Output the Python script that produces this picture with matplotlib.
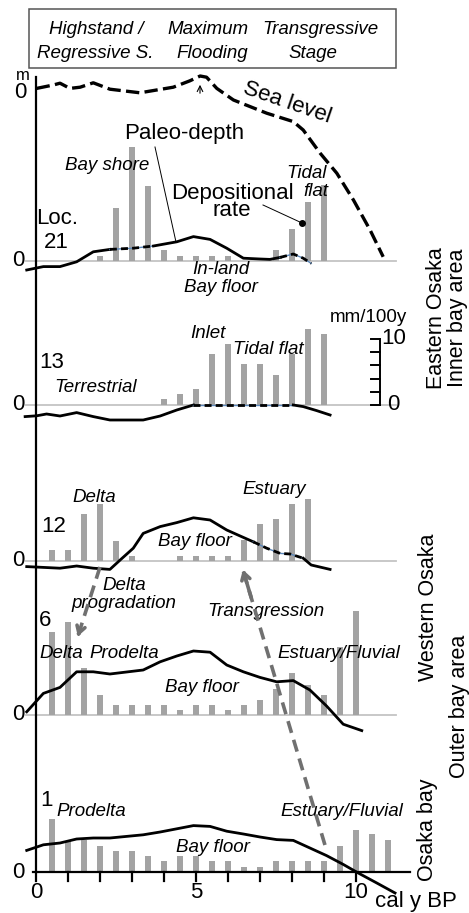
import numpy as np
import matplotlib
matplotlib.use('Agg')
import matplotlib.pyplot as plt
from matplotlib.patches import Rectangle

plt.rcParams['font.family'] = ['Liberation Sans', 'DejaVu Sans']

# ---- data (ages in ka, cal BP) ----
bar_age = [0.5, 1.0, 1.5, 2.0, 2.5, 3.0, 3.5, 4.0, 4.5, 5.0, 5.5,
           6.0, 6.5, 7.0, 7.5, 8.0, 8.5, 9.0, 9.5, 10.0, 10.5, 11.0]
# depositional rate, mm/100y
rate_21 = [0, 0, 0, 0.8, 8.1, 17.2, 11.4, 1.6, 0.8, 0.8, 0.8,
           0.8, 0, 0, 1.6, 4.8, 9.0, 11.5, 0, 0, 0, 0]
rate_13 = [0, 0, 0, 0, 0, 0, 0, 0.9, 1.6, 2.4, 7.7,
           9.2, 6.2, 6.2, 4.6, 7.7, 11.5, 10.8, 0, 0, 0, 0]
rate_12 = [1.6, 1.6, 7.1, 8.6, 3.1, 0.8, 0, 0, 0.8, 0.8, 0.8,
           0.8, 3.2, 5.6, 6.3, 8.6, 9.4, 0, 0, 0, 0, 0]
rate_6 = [12.6, 14.1, 7.1, 3.0, 1.5, 1.5, 1.5, 1.5, 0.7, 1.5, 1.5,
          0.7, 1.5, 2.3, 3.9, 6.3, 4.6, 3.1, 10.3, 15.7, 0, 0]
rate_1 = [8.1, 4.7, 4.9, 4.0, 3.2, 3.2, 2.4, 1.6, 2.4, 2.4, 1.6,
          1.6, 0.8, 0.8, 1.6, 1.6, 1.6, 1.6, 4.0, 6.4, 5.7, 4.8]

# sea level, m
sea_age = [0.02, 0.54, 0.75, 1.06, 1.38, 1.79, 2.31, 3.25, 4.29, 4.81, 5.13,
           5.33, 5.65, 6.17, 7.21, 8.04, 8.35, 8.88, 9.4, 9.92, 10.44, 10.85]
sea_m = [0.4, 1.25, 1.7, 0.4, 0.7, 1.8, 0.2, -0.7, 0.7, 2.3, 3.5,
         3.2, 0.4, -2.5, -5.8, -7.9, -10.0, -15.8, -20.8, -27.5, -35.0, -41.7]

# paleo-depth, m
depth_age_21 = [-0.29, 0.23, 0.75, 1.27, 1.79, 2.31, 3.04, 3.67, 4.40, 4.92,
                5.44, 5.96, 6.48, 7.0, 7.31, 7.63, 8.04, 8.35, 8.6]
depth_21 = [-2.25, -1.4, -1.4, -0.2, 2.3, 2.9, 3.2, 3.75, 4.8, 6.1,
            5.4, 3.2, 0.7, 0.5, 0.4, 0.9, 1.75, 0.7, -0.6]
depth_age_13 = [-0.34, 0.02, 0.33, 0.75, 1.27, 1.79, 2.31, 3.35, 3.88, 4.4,
                4.92, 8.04, 8.35, 8.77, 9.19]
depth_13 = [-2.9, -2.7, -2.25, -2.75, -1.9, -2.9, -3.75, -3.75, -2.75, -1.25,
            0, 0, -0.4, -1.4, -2.5]
depth_age_12 = [-0.29, 0.23, 0.75, 1.27, 1.79, 2.31, 2.63, 3.04, 3.35, 3.88, 4.4,
                4.92, 5.44, 5.96, 6.38, 6.79, 7.21, 7.63, 7.94, 8.35, 8.6, 9.19]
depth_12 = [-1.4, -1.6, -1.8, -1.25, -1.8, -2.1, 0.25, 3.2, 6.9, 8.6, 9.6,
            10.8, 10.25, 7.75, 6.25, 4.8, 3.2, 1.9, 1.75, 0.7, -1.0, -2.1]
depth_age_6 = [-0.29, 0.23, 0.75, 1.27, 1.79, 2.31, 3.35, 3.88, 4.4, 4.92,
               5.44, 5.96, 6.48, 7.0, 7.52, 8.04, 8.56, 9.08, 9.6, 10.18]
depth_6 = [0.8, 5.4, 6.9, 10.8, 10.8, 10.25, 11.25, 13.3, 14.75, 16.0,
           15.7, 12.5, 10.8, 9.4, 8.3, 8.6, 6.25, 2.25, -2.3, -3.9]
depth_age_1 = [-0.29, 0.23, 0.75, 1.27, 1.79, 2.31, 3.35, 3.88, 4.4, 4.92, 5.44,
               5.96, 6.48, 7.0, 7.52, 8.04, 8.56, 9.08, 9.6, 10.07, 10.65, 11.22]
depth_1 = [5.4, 6.8, 7.25, 8.25, 8.5, 8.5, 9.3, 10.0, 10.8, 11.6, 11.4,
           10.2, 9.5, 8.75, 8.1, 7.9, 6.0, 4.1, 1.9, -0.25, -2.75, -5.25]

x_ticks = [0, 1, 2, 3, 4, 5, 6, 7, 8, 9, 10]
x_ticklabels = ['0', '5', '10']
rate_ticks = [0, 2, 4, 6, 8, 10]

# ---- layout (pixel based, y downward) ----
W, H = 469, 913
X0, PX_KA = 36, 32          # px of age 0, px per ka
RATE_PX = 6.6               # px per mm/100y
DEPTH_PX = 4.0              # px per m
SEA0 = 90                   # px of sea level 0
BAR_C = '#a3a3a3'
ARR_C = '#707070'

# site, baseline px, rate, depth ages, depth, dashed index ranges
panels = [
    ('21', 261, rate_21, depth_age_21, depth_21, [(5, 7), (15, 18)]),
    ('13', 405, rate_13, depth_age_13, depth_13, [(10, 11)]),
    ('12', 561, rate_12, depth_age_12, depth_12, [(15, 19)]),
    ('6', 715, rate_6, depth_age_6, depth_6, []),
    ('1', 872, rate_1, depth_age_1, depth_1, []),
]


def ka(xpx):
    return (xpx - X0) / PX_KA


fig = plt.figure(figsize=(W / 100, H / 100), dpi=100)
ax = fig.add_axes([0, 0, 1, 1])
ax.set_xlim(ka(0), ka(W))
ax.set_ylim(H, 0)
ax.axis('off')


def txt(xpx, ypx, s, size=13.5, style='normal', **kw):
    kw.setdefault('ha', 'center')
    kw.setdefault('va', 'center')
    ax.text(ka(xpx), ypx, s, fontsize=size, style=style, **kw)


def draw_depth(age, depth, base, dashed):
    age = np.asarray(age)
    y = base - np.asarray(depth) * DEPTH_PX
    start = 0
    for i0, i1 in dashed:
        ax.plot(age[start:i0 + 1], y[start:i0 + 1], color='k', lw=2, zorder=4)
        ax.plot(age[i0:i1 + 1], y[i0:i1 + 1], color='#5b86b8', lw=1.0, zorder=4)
        ax.plot(age[i0:i1 + 1], y[i0:i1 + 1], color='k', lw=2,
                ls=(0, (2.5, 1.5)), zorder=4)
        start = i1
    ax.plot(age[start:], y[start:], color='k', lw=2, zorder=4)


for site, base, rate, d_age, depth, dashed in panels:
    if site != '1':
        ax.plot([ka(26), ka(396)], [base, base], color='#c4c4c4', lw=1.3, zorder=1)
    ax.bar(bar_age, -np.asarray(rate) * RATE_PX, bottom=base, width=0.21,
           color=BAR_C, zorder=2)
    draw_depth(d_age, depth, base, dashed)
    txt(18, base, '0', size=16)

# sea level
ax.plot(sea_age, SEA0 - np.asarray(sea_m) * DEPTH_PX, color='k', lw=2.4,
        ls=(0, (4, 1.6)), zorder=4)
ax.annotate('', xy=(5.125, 82), xytext=(5.125, 96),
            arrowprops=dict(arrowstyle='->', color='k', lw=0.8))
txt(20, 93, '0', size=16)
txt(23, 76, 'm', size=12)

# main vertical axis and bottom axis
ax.plot([0, 0], [77, 872], color='k', lw=1.6, zorder=5)
ax.plot([ka(33), ka(410)], [872, 872], color='k', lw=1.6, zorder=5)
for t in x_ticks:
    ax.plot([t, t], [872, 881], color='k', lw=1.6, zorder=5)
for lab in x_ticklabels:
    ax.text(float(lab), 893, lab, fontsize=16, ha='center', va='center')
txt(416, 902, 'cal y BP', size=16)

# rate scale
ax.plot([ka(380), ka(380)], [405, 405 - 10 * RATE_PX], color='k', lw=1.4)
for r in rate_ticks:
    ax.plot([ka(371), ka(380)], [405 - r * RATE_PX] * 2, color='k', lw=1.4)
txt(394, 405 - 10 * RATE_PX, '10', size=16)
txt(393, 405, '0', size=16)
txt(368, 318, 'mm/100y', size=13.5)

# header
ax.add_patch(Rectangle((ka(29), 68), ka(396) - ka(29), -59, fill=False,
                       edgecolor='#555555', lw=1.1))
txt(96, 29, 'Highstand /', style='italic')
txt(95, 53, 'Regressive S.', style='italic')
txt(208, 29, 'Maximum', style='italic')
txt(212, 53, 'Flooding', style='italic')
txt(320, 29, 'Transgressive', style='italic')
txt(313, 53, 'Stage', style='italic')

# annotations
txt(287, 103, 'Sea level', size=16, rotation=-19)
txt(184, 133, 'Paleo-depth', size=16)
ax.plot([ka(155), ka(176)], [147, 242], color='k', lw=0.7)
txt(232, 202, 'Depositional\nrate', size=16, linespacing=0.72)
ax.plot([ka(263), ka(302)], [205, 223], color='k', lw=0.7)
ax.plot([ka(302)], [223], 'o', color='k', ms=4)

# loc 21
txt(57, 218, 'Loc.', size=16)
txt(56, 243, '21', size=16)
txt(107, 166, 'Bay shore', style='italic')
txt(307, 173, 'Tidal', style='italic')
txt(316, 192, 'flat', style='italic')
txt(221, 269, 'In-land', style='italic')
txt(221, 287, 'Bay floor', style='italic')
# loc 13
txt(52, 363, '13', size=16)
txt(96, 388, 'Terrestrial', style='italic')
txt(208, 333, 'Inlet', style='italic')
txt(268, 349, 'Tidal flat', style='italic')
# loc 12
txt(54, 527, '12', size=16)
txt(94, 497, 'Delta', style='italic')
txt(274, 490, 'Estuary', style='italic')
txt(195, 542, 'Bay floor', style='italic')
txt(124, 586, 'Delta', style='italic')
txt(124, 603, 'progradation', style='italic')
txt(266, 612, 'Transgression', style='italic')
# loc 6
txt(45, 620, '6', size=16)
txt(61, 653, 'Delta', style='italic')
txt(124, 653, 'Prodelta', style='italic')
txt(339, 653, 'Estuary/Fluvial', style='italic')
txt(202, 687, 'Bay floor', style='italic')
# loc 1
txt(47, 800, '1', size=16)
txt(91, 811, 'Prodelta', style='italic')
txt(342, 811, 'Estuary/Fluvial', style='italic')
txt(213, 848, 'Bay floor', style='italic')

# region labels
txt(436, 318, 'Eastern Osaka', size=15.5, rotation=90)
txt(458, 318, 'Inner bay area', size=15.5, rotation=90)
txt(428, 607, 'Western Osaka', size=15.5, rotation=90)
txt(459, 706, 'Outer bay area', size=15.5, rotation=90)
txt(428, 830, 'Osaka bay', size=15.5, rotation=90)

# facies shift arrows (dashed shaft, solid head)
for (a0, y0), (a1, y1) in [((2.0, 567), (1.28, 639)), ((9.03, 845), (6.44, 567))]:
    ax.plot([a0, a1], [y0, y1], color=ARR_C, lw=2.6, ls=(0, (3.4, 2)), zorder=6)
    ax.annotate('', xy=(a1, y1), xytext=(a1 + (a0 - a1) * 0.12, y1 + (y0 - y1) * 0.12),
                arrowprops=dict(arrowstyle='->,head_length=0.5,head_width=0.3',
                                color=ARR_C, lw=2.6), zorder=6)

fig.savefig('out.png', dpi=100)
